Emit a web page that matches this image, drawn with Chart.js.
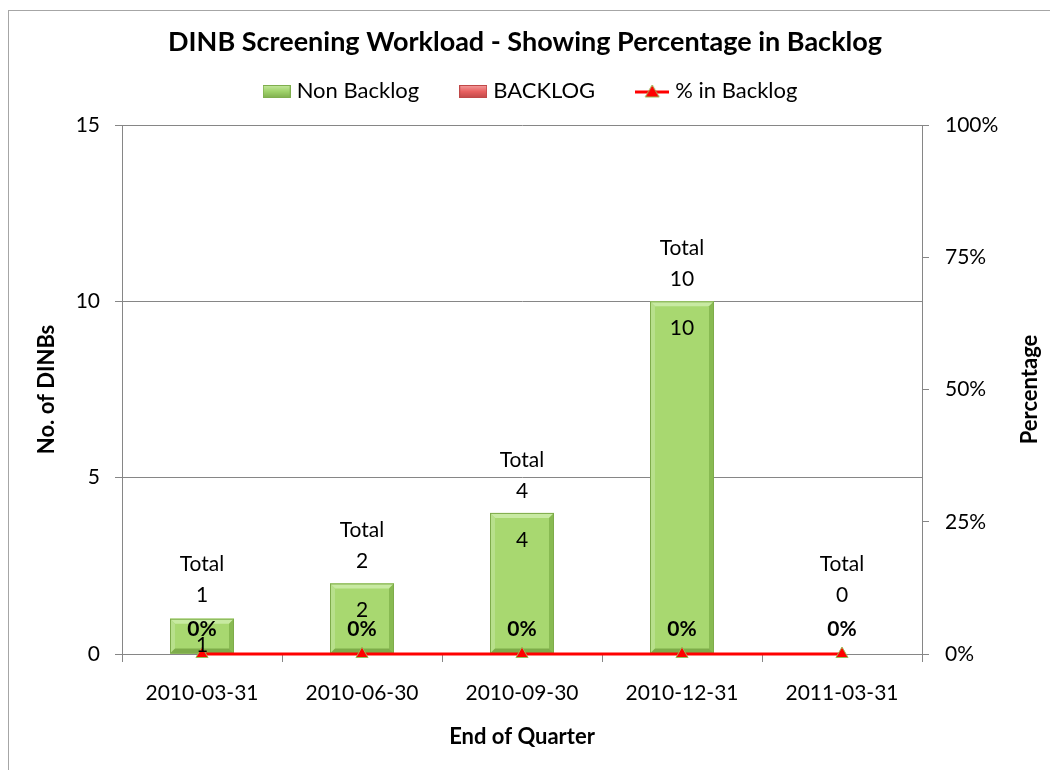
<!DOCTYPE html>
<html>
<head>
<meta charset="utf-8">
<script src="https://cdn.jsdelivr.net/npm/chart.js@4/dist/chart.umd.min.js"></script>
<style>
  html, body { margin: 0; padding: 0; background: #fff; }
  #wrap { width: 1050px; height: 770px; }
</style>
</head>
<body>
<div id="wrap"><canvas id="chart" width="1050" height="770"></canvas></div>
<script>
// chart data
const categories = ['2010-03-31', '2010-06-30', '2010-09-30', '2010-12-31', '2011-03-31'];
const nonBacklog = [1, 2, 4, 10, 0];
const backlog = [0, 0, 0, 0, 0];
const pctBacklog = [0, 0, 0, 0, 0];
const leftTicks = [0, 5, 10, 15];
const rightTicks = [0, 25, 50, 75, 100];
const seriesNames = ['Non Backlog', 'BACKLOG', '% in Backlog'];

const FONT = 'Lato, "Liberation Sans", sans-serif';

// little images for the legend entries
function boxImage(light, mid, dark) {
    const c = document.createElement('canvas');
    c.width = 28; c.height = 13;
    const g = c.getContext('2d');
    const grad = g.createLinearGradient(0, 0, 0, 13);
    grad.addColorStop(0, light);
    grad.addColorStop(0.5, mid);
    grad.addColorStop(1, dark);
    g.fillStyle = grad;
    g.fillRect(0, 0, 28, 13);
    g.strokeStyle = dark;
    g.strokeRect(0.5, 0.5, 27, 12);
    return c;
}
function lineImage() {
    const c = document.createElement('canvas');
    c.width = 34; c.height = 16;
    const g = c.getContext('2d');
    g.strokeStyle = '#ff0000';
    g.lineWidth = 3;
    g.beginPath(); g.moveTo(0, 9); g.lineTo(34, 9); g.stroke();
    g.fillStyle = '#ff0000';
    g.strokeStyle = '#9bbb59';
    g.lineWidth = 1;
    g.beginPath(); g.moveTo(17, 2); g.lineTo(24, 14); g.lineTo(10, 14); g.closePath();
    g.fill(); g.stroke();
    return c;
}
const legendImages = [
    boxImage('#c6e8a0', '#9fd26a', '#7fae4e'),
    boxImage('#f3a0a0', '#e86060', '#c04848'),
    lineImage()
];

// outer frame
const framePlugin = {
    id: 'frame',
    beforeDraw(chart) {
        const ctx = chart.ctx;
        ctx.save();
        ctx.strokeStyle = '#a6a6a6';
        ctx.lineWidth = 1;
        ctx.strokeRect(8.5, 10.5, 1060, 800);
        ctx.restore();
    }
};

// legend row under the title and the right axis title (reads bottom to top)
const legendPlugin = {
    id: 'customLegend',
    afterDraw(chart) {
        const ctx = chart.ctx;
        ctx.save();
        ctx.font = '22px ' + FONT;
        ctx.fillStyle = '#000';
        ctx.textBaseline = 'middle';
        const gap = 6, between = 40, cy = 91;
        const widths = seriesNames.map((n, i) => legendImages[i].width + gap + ctx.measureText(n).width);
        const total = widths.reduce((a, b) => a + b, 0) + between * (widths.length - 1);
        let x = 530 - total / 2;
        seriesNames.forEach((n, i) => {
            const img = legendImages[i];
            ctx.drawImage(img, x, Math.round(cy - img.height / 2));
            ctx.fillText(n, x + img.width + gap, cy);
            x += widths[i] + between;
        });
        const y1 = chart.scales.y1;
        ctx.font = 'bold 22px ' + FONT;
        ctx.textAlign = 'center';
        ctx.translate(1030, (y1.top + y1.bottom) / 2);
        ctx.rotate(-Math.PI / 2);
        ctx.fillText('Percentage', 0, 0);
        ctx.restore();
    }
};

// bevelled look on the green/red bars
const bevelPlugin = {
    id: 'bevel',
    afterDatasetDraw(chart, args) {
        if (args.index > 1) return;
        const colors = args.index === 0
            ? { base: '#a8d870', top: '#c8eaa2', left: '#b8e08c', right: '#88ba52', bottom: '#7eac4a' }
            : { base: '#e86060', top: '#f4a4a4', left: '#ee8080', right: '#c84c4c', bottom: '#b84444' };
        const ctx = chart.ctx;
        args.meta.data.forEach(bar => {
            const h = bar.base - bar.y;
            if (h <= 0.5) return;
            const l = bar.x - bar.width / 2, r = bar.x + bar.width / 2, t = bar.y, b = bar.base;
            const s = Math.min(5, h / 2);
            ctx.save();
            ctx.fillStyle = colors.base;
            ctx.fillRect(l, t, r - l, h);
            const quad = (pts, col) => {
                ctx.fillStyle = col;
                ctx.beginPath();
                ctx.moveTo(pts[0], pts[1]);
                for (let i = 2; i < pts.length; i += 2) ctx.lineTo(pts[i], pts[i + 1]);
                ctx.closePath();
                ctx.fill();
            };
            quad([l, t, r, t, r - s, t + s, l + s, t + s], colors.top);
            quad([l, t, l + s, t + s, l + s, b - s, l, b], colors.left);
            quad([r, t, r, b, r - s, b - s, r - s, t + s], colors.right);
            quad([l, b, l + s, b - s, r - s, b - s, r, b], colors.bottom);
            ctx.strokeStyle = colors.bottom;
            ctx.lineWidth = 1;
            ctx.strokeRect(l + 0.5, t + 0.5, r - l - 1, h - 1);
            ctx.restore();
        });
    }
};

// data labels: values inside the bars, totals above, percentages above the line
const labelPlugin = {
    id: 'labels',
    afterDatasetsDraw(chart) {
        const ctx = chart.ctx;
        const y = chart.scales.y;
        const bars = chart.getDatasetMeta(0).data;
        const points = chart.getDatasetMeta(2).data;
        ctx.save();
        ctx.textAlign = 'center';
        ctx.textBaseline = 'middle';
        ctx.fillStyle = '#000';
        categories.forEach((c, i) => {
            const x = bars[i].x;
            ctx.font = '21px ' + FONT;
            if (nonBacklog[i] > 0) {
                ctx.fillText(String(nonBacklog[i]), x, bars[i].y + 27);
            }
            const total = nonBacklog[i] + backlog[i];
            const yNum = Math.min(y.getPixelForValue(total) - 22, y.getPixelForValue(0) - 59);
            ctx.fillText(String(total), x, yNum);
            ctx.fillText('Total', x, yNum - 31);
            ctx.font = 'bold 21px ' + FONT;
            ctx.fillText(pctBacklog[i] + '%', x, points[i].y - 25);
        });
        ctx.restore();
    }
};

new Chart(document.getElementById('chart'), {
    data: {
        labels: categories,
        datasets: [{
            type: 'bar',
            label: seriesNames[0],
            data: nonBacklog,
            backgroundColor: '#a8d870',
            borderWidth: 0,
            barPercentage: 0.4,
            categoryPercentage: 1,
            yAxisID: 'y',
            order: 2
        }, {
            type: 'bar',
            label: seriesNames[1],
            data: backlog,
            backgroundColor: '#e86060',
            borderWidth: 0,
            barPercentage: 0.4,
            categoryPercentage: 1,
            yAxisID: 'y',
            order: 1
        }, {
            type: 'line',
            label: seriesNames[2],
            data: pctBacklog,
            borderColor: '#ff0000',
            borderWidth: 3,
            pointStyle: 'triangle',
            pointRadius: 7,
            pointBackgroundColor: '#ff0000',
            pointBorderColor: '#9bbb59',
            pointBorderWidth: 1,
            yAxisID: 'y1',
            clip: false,
            order: 0
        }]
    },
    options: {
        responsive: false,
        animation: false,
        layout: { padding: 0 },
        plugins: {
            tooltip: { enabled: false },
            legend: { display: false },
            title: {
                display: true,
                text: 'DINB Screening Workload - Showing Percentage in Backlog',
                color: '#000',
                font: { family: FONT, size: 27, weight: 'bold' },
                padding: { top: 26, bottom: 66.6 }
            }
        },
        scales: {
            x: {
                stacked: true,
                offset: true,
                grid: {
                    offset: true,
                    drawOnChartArea: false,
                    drawTicks: true,
                    tickLength: 8,
                    color: '#868686'
                },
                border: { color: '#868686' },
                ticks: {
                    color: '#000',
                    font: { family: FONT, size: 21 },
                    padding: 19,
                    maxRotation: 0
                },
                title: {
                    display: true,
                    text: 'End of Quarter',
                    color: '#000',
                    font: { family: FONT, size: 22, weight: 'bold' },
                    padding: 20
                },
                afterFit(s) { s.height = 116; }
            },
            y: {
                stacked: true,
                position: 'left',
                min: 0,
                max: 15,
                afterBuildTicks(s) { s.ticks = leftTicks.map(v => ({ value: v })); },
                grid: { color: '#868686', tickLength: 7 },
                border: { color: '#868686' },
                ticks: {
                    color: '#000',
                    font: { family: FONT, size: 21 },
                    padding: 15
                },
                title: {
                    display: true,
                    text: 'No. of DINBs',
                    color: '#000',
                    font: { family: FONT, size: 22, weight: 'bold' },
                    padding: 34
                },
                afterFit(s) { s.width = 122; }
            },
            y1: {
                position: 'right',
                min: 0,
                max: 100,
                afterBuildTicks(s) { s.ticks = rightTicks.map(v => ({ value: v })); },
                grid: { drawOnChartArea: false, color: '#868686', tickLength: 7 },
                border: { color: '#868686' },
                ticks: {
                    color: '#000',
                    font: { family: FONT, size: 21 },
                    padding: 16,
                    callback: v => v + '%'
                },
                afterFit(s) { s.width = 128; }
            }
        }
    },
    plugins: [framePlugin, bevelPlugin, labelPlugin, legendPlugin]
});
</script>
</body>
</html>
